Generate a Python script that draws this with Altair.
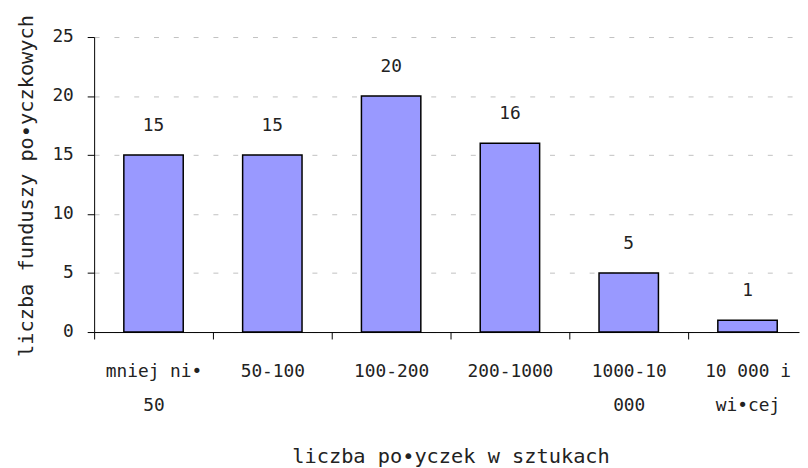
import altair as alt
import pandas as pd

categories = ["mniej ni•\n50", "50-100", "100-200", "200-1000", "1000-10\n000", "10 000 i\nwi•cej"]
values = [15, 15, 20, 16, 5, 1]
y_ticks = [0, 5, 10, 15, 20, 25]

df = pd.DataFrame({"cat": categories, "val": values})
df["pos"] = [i + 0.5 for i in range(len(categories))]  # band centres

FONT = "DejaVu Sans Mono"
PLOT_W = 712
STEP = 120  # pixel width of one category band

label_array = "[" + ",".join("'" + c.replace("\n", "|") + "'" for c in categories) + "]"
label_expr = f"split({label_array}[floor(datum.value)] || '', '|')"

x = alt.X(
    "pos:Q",
    scale=alt.Scale(domain=[0, PLOT_W / STEP], nice=False, zero=False, padding=0),
    axis=alt.Axis(
        title="liczba po•yczek w  sztukach",
        values=list(range(len(categories))),
        labelAngle=0,
        labelExpr=label_expr,
        labelOffset=STEP / 2,
        labelAlign="center",
        labelOverlap=False,
        labelFlush=False,
        labelBound=False,
        labelLineHeight=34,
        labelPadding=24,
        labelFont=FONT,
        labelFontSize=18,
        labelColor="#222222",
        tickSize=7,
        tickColor="black",
        domainColor="black",
        grid=False,
        titleFont=FONT,
        titleFontSize=20.5,
        titleFontWeight="normal",
        titleColor="#222222",
        titleX=STEP * len(categories) / 2,
        titleY=132,
        titleBaseline="alphabetic",
    ),
)
y = alt.Y(
    "val:Q",
    scale=alt.Scale(domain=[0, 25], nice=False, padding=0),
    axis=alt.Axis(
        title="liczba funduszy po•yczkowych",
        values=y_ticks,
        labelFont=FONT,
        labelFontSize=18,
        labelColor="#222222",
        labelPadding=14,
        tickSize=7,
        tickColor="black",
        domainColor="black",
        gridColor="#c0c0c0",
        gridDash=[5, 15],
        gridWidth=1,
        titleFont=FONT,
        titleFontSize=20.5,
        titleFontWeight="normal",
        titleColor="#222222",
        titleX=-62,
        titleY=150,
        titleBaseline="alphabetic",
    ),
)

bars = alt.Chart(df).mark_bar(
    width=STEP / 2, color="#9999FF", stroke="black", strokeWidth=1.5
).encode(x=x, y=y)

labels = alt.Chart(df).mark_text(
    baseline="bottom", dy=-20, font=FONT, fontSize=18, color="#222222"
).encode(x="pos:Q", y="val:Q", text="val:Q")

chart = (
    alt.layer(bars, labels)
    .properties(
        width=PLOT_W,
        height=298,
        autosize=alt.AutoSizeParams(type="none"),
        padding={"left": 87, "top": 27, "right": 1, "bottom": 135},
    )
    .configure_view(stroke=None)
)

chart.save("out.html", embed_options={"renderer": "svg", "actions": False})
